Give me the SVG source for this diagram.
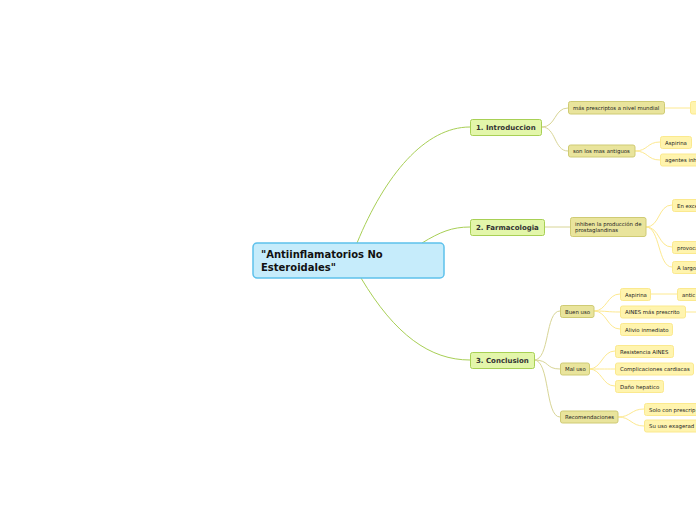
<svg xmlns="http://www.w3.org/2000/svg" width="696" height="520" viewBox="0 0 696 520">
<style>
text{font-family:"DejaVu Sans","Liberation Sans",sans-serif;fill:#333}
.root rect{fill:#c6ecfb;stroke:#5dc1ec;stroke-width:1.5}
.root text{font-size:10px;font-weight:bold;fill:#111}
.l1 rect{fill:#e3f6aa;stroke:#a8d055;stroke-width:1}
.l1 text{font-size:7px;font-weight:bold;fill:#333}
.l2 rect{fill:#e9e49c;stroke:#cfcb74;stroke-width:1}
.l2 text{font-size:5.4px;fill:#222}
.l3 rect{fill:#fff4ae;stroke:#fbe98e;stroke-width:1}
.l3 text{font-size:5.4px;fill:#222}
.c1{fill:none;stroke:#a8cf55;stroke-width:1}
.c2{fill:none;stroke:#d8d596;stroke-width:1}
.c3{fill:none;stroke:#fde990;stroke-width:1}
</style>
<rect width="696" height="520" fill="#ffffff"/>
<g id="connectors">
<path class="c1" d="M357,243 C385,175 425,127 470,127"/>
<path class="c1" d="M422,243 C440,232 452,227 470,227"/>
<path class="c1" d="M361,278 C395,335 430,360 470,360"/>
<path class="c2" d="M542,127 C556,127 554,108 568,108"/>
<path class="c2" d="M542,127 C556,127 554,151 568,151"/>
<path class="c2" d="M544,227 L570,227"/>
<path class="c2" d="M534,360 C550,360 545,311 560,311"/>
<path class="c2" d="M534,360 C550,360 545,369 560,369"/>
<path class="c2" d="M534,360 C550,360 545,417 560,417"/>
<path class="c3" d="M664,108 L690,108"/>
<path class="c3" d="M635,151 C648,151 647,142 660,142"/>
<path class="c3" d="M635,151 C648,151 647,160 660,160"/>
<path class="c3" d="M646,227 C660,227 658,205 672,205"/>
<path class="c3" d="M646,227 C660,227 658,247 672,247"/>
<path class="c3" d="M646,227 C660,227 658,267 672,267"/>
<path class="c3" d="M594,311 C607,311 607,294 620,294"/>
<path class="c3" d="M594,311 C607,311 607,312 620,312"/>
<path class="c3" d="M594,311 C607,311 607,329 620,329"/>
<path class="c3" d="M651,294 L677,294"/>
<path class="c3" d="M685,312 L696,312"/>
<path class="c3" d="M589,369 C602,369 602,351 615,351"/>
<path class="c3" d="M589,369 C602,369 602,369 615,369"/>
<path class="c3" d="M589,369 C602,369 602,386 615,386"/>
<path class="c3" d="M618,417 C631,417 631,409 644,409"/>
<path class="c3" d="M618,417 C631,417 631,426 644,426"/>
</g>
<g id="root" class="root"><rect x="253" y="243" width="191" height="35" rx="4"/><text x="261" y="258">"Antiinflamatorios No</text><text x="261" y="271">Esteroidales"</text></g>
<g id="n1" class="l1"><rect x="470.5" y="119.5" width="71" height="16" rx="2"/><text x="476" y="130">1. Introduccion</text></g>
<g id="n2" class="l1"><rect x="470.5" y="219.5" width="74" height="16" rx="2"/><text x="476" y="230">2. Farmacologia</text></g>
<g id="n3" class="l1"><rect x="470.5" y="352.5" width="64" height="16" rx="2"/><text x="476" y="363">3. Conclusion</text></g>
<g id="n1a" class="l2"><rect x="568.5" y="101.5" width="96" height="12.5" rx="2"/><text x="573" y="109.8">más prescriptos a nivel mundial</text></g>
<g id="n1b" class="l2"><rect x="568.5" y="145" width="66.5" height="12" rx="2"/><text x="573" y="153">son los mas antiguos</text></g>
<g id="n2a" class="l2"><rect x="570.5" y="217.5" width="75.5" height="19" rx="2"/><text x="575" y="225.6">inhiben la producción de</text><text x="575" y="232">prostaglandinas</text></g>
<g id="n3a" class="l2"><rect x="560.5" y="305.5" width="33.5" height="12" rx="2"/><text x="565" y="313.5">Buen uso</text></g>
<g id="n3b" class="l2"><rect x="560.5" y="363" width="29" height="12" rx="2"/><text x="565" y="371">Mal uso</text></g>
<g id="n3c" class="l2"><rect x="560.5" y="411" width="57.5" height="12" rx="2"/><text x="565" y="419">Recomendaciones</text></g>
<g id="n1a1" class="l3"><rect x="690.5" y="101.5" width="20" height="12.5" rx="2"/></g>
<g id="n1b1" class="l3"><rect x="660.5" y="136.5" width="31" height="12" rx="2"/><text x="665" y="144.5">Aspirina</text></g>
<g id="n1b2" class="l3"><rect x="660.5" y="154" width="50" height="12" rx="2"/><text x="665" y="162">agentes inh</text></g>
<g id="n2a1" class="l3"><rect x="672.5" y="199.5" width="40" height="12" rx="2"/><text x="677" y="207.5">En exce</text></g>
<g id="n2a2" class="l3"><rect x="672.5" y="241.5" width="40" height="12" rx="2"/><text x="677" y="249.5">provoca</text></g>
<g id="n2a3" class="l3"><rect x="672.5" y="261.5" width="40" height="12" rx="2"/><text x="677" y="269.5">A largo</text></g>
<g id="n3a1" class="l3"><rect x="620.5" y="288.5" width="30" height="12" rx="2"/><text x="625" y="296.5">Aspirina</text></g>
<g id="n3a1a" class="l3"><rect x="677.5" y="288.5" width="40" height="12" rx="2"/><text x="682" y="296.5">antic</text></g>
<g id="n3a2" class="l3"><rect x="620.5" y="306" width="65" height="12" rx="2"/><text x="625" y="314">AINES más prescrito</text></g>
<g id="n3a3" class="l3"><rect x="620.5" y="323.5" width="52" height="12" rx="2"/><text x="625" y="331.5">Alivio inmediato</text></g>
<g id="n3b1" class="l3"><rect x="615.5" y="345.5" width="58" height="12" rx="2"/><text x="620" y="353.5">Resistencia AINES</text></g>
<g id="n3b2" class="l3"><rect x="615.5" y="363" width="78" height="12" rx="2"/><text x="620" y="371">Complicaciones cardiacas</text></g>
<g id="n3b3" class="l3"><rect x="615.5" y="380.5" width="48" height="12" rx="2"/><text x="620" y="388.5">Daño hepatico</text></g>
<g id="n3c1" class="l3"><rect x="644.5" y="403.5" width="60" height="12" rx="2"/><text x="649" y="411.5">Solo con prescrip</text></g>
<g id="n3c2" class="l3"><rect x="644.5" y="420" width="60" height="12" rx="2"/><text x="649" y="428">Su uso exagerad</text></g>
</svg>
